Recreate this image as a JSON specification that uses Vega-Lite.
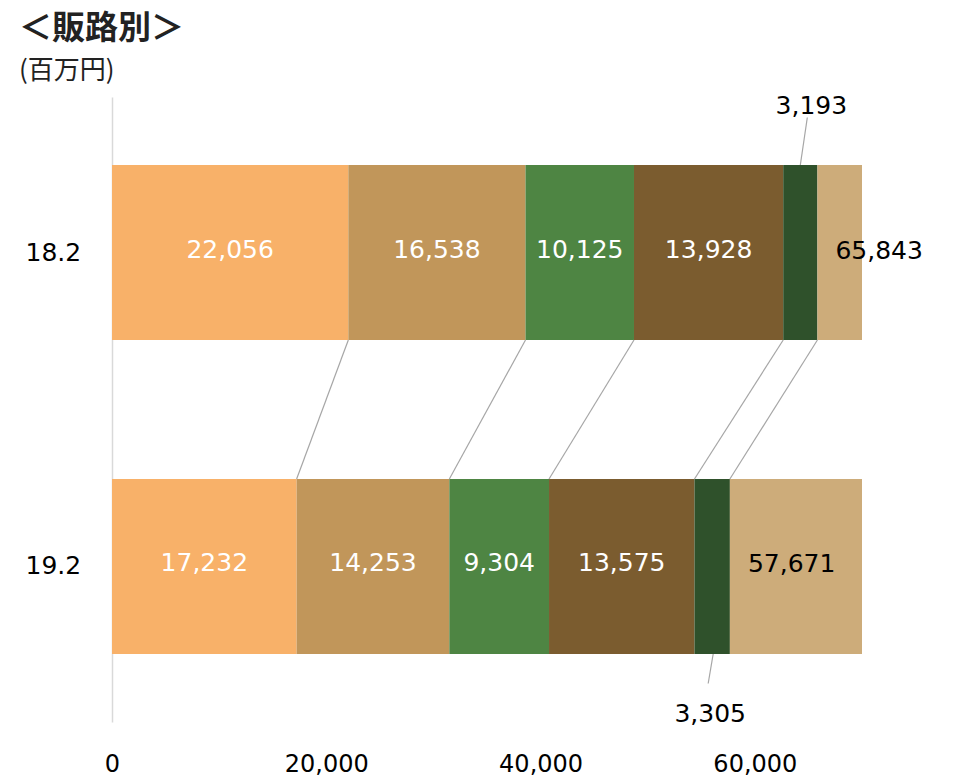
{
  "$schema": "https://vega.github.io/schema/vega-lite/v6.json",
  "width": 750,
  "height": 625,
  "autosize": {"type": "none"},
  "padding": {"left": 112, "top": 97, "right": 98, "bottom": 59},
  "background": "white",
  "title": {
    "text": "＜販路別＞",
    "subtitle": "(百万円)",
    "anchor": "start",
    "frame": "group",
    "dx": -93,
    "font": "Noto Sans CJK JP",
    "fontSize": 33,
    "fontWeight": "bold",
    "color": "#222222",
    "subtitleFont": "Noto Sans CJK JP",
    "subtitleFontSize": 26,
    "subtitleColor": "#222222",
    "subtitlePadding": 12,
    "offset": 10
  },
  "config": {"view": {"stroke": null}},
  "data": {
    "values": [
      {"period": "18.2", "channel": "販路A", "order": 1, "value": 22056},
      {"period": "18.2", "channel": "販路B", "order": 2, "value": 16538},
      {"period": "18.2", "channel": "販路C", "order": 3, "value": 10125},
      {"period": "18.2", "channel": "販路D", "order": 4, "value": 13928},
      {"period": "18.2", "channel": "販路E", "order": 5, "value": 3193},
      {"period": "18.2", "channel": "販路F", "order": 6, "value": 65843},
      {"period": "19.2", "channel": "販路A", "order": 1, "value": 17232},
      {"period": "19.2", "channel": "販路B", "order": 2, "value": 14253},
      {"period": "19.2", "channel": "販路C", "order": 3, "value": 9304},
      {"period": "19.2", "channel": "販路D", "order": 4, "value": 13575},
      {"period": "19.2", "channel": "販路E", "order": 5, "value": 3305},
      {"period": "19.2", "channel": "販路F", "order": 6, "value": 57671}
    ]
  },
  "transform": [
    {"stack": "value", "groupby": ["period"], "sort": [{"field": "order", "order": "ascending"}], "as": ["x0", "x1"]},
    {"calculate": "(datum.x0 + datum.x1) / 2", "as": "mid"}
  ],
  "encoding": {
    "y": {
      "field": "period",
      "type": "nominal",
      "sort": ["18.2", "19.2"],
      "scale": {"domain": ["18.2", "19.2"], "paddingInner": 0.4427, "paddingOuter": 0.2166},
      "axis": {
        "title": null,
        "domain": true,
        "domainColor": "#d9d9d9",
        "domainWidth": 1.5,
        "ticks": false,
        "labelAlign": "left",
        "labelPadding": 87,
        "labelFont": "DejaVu Sans",
        "labelFontSize": 25,
        "labelColor": "#000000"
      }
    }
  },
  "layer": [
    {
      "mark": {"type": "bar", "clip": true},
      "encoding": {
        "x": {
          "field": "x0",
          "type": "quantitative",
          "scale": {"domain": [0, 70000], "nice": false},
          "axis": {
            "title": null,
            "values": [0, 20000, 40000, 60000],
            "format": ",d",
            "domain": false,
            "ticks": false,
            "grid": false,
            "labelFlush": false,
            "labelPadding": 30,
            "labelFont": "DejaVu Sans",
            "labelFontSize": 24,
            "labelColor": "#000000"
          }
        },
        "x2": {"field": "x1"},
        "color": {
          "field": "channel",
          "type": "nominal",
          "scale": {
            "domain": ["販路A", "販路B", "販路C", "販路D", "販路E", "販路F"],
            "range": ["#F8B169", "#C1965A", "#4E8543", "#7B5C2F", "#2F512B", "#CDAC7A"]
          },
          "legend": null
        }
      }
    },
    {
      "transform": [
        {"filter": "datum.order <= 5"},
        {"pivot": "period", "value": "x1", "groupby": ["order"]}
      ],
      "mark": {"type": "rule", "color": "#a6a6a6", "strokeWidth": 1.2, "yOffset": 87.5, "y2Offset": -87.5},
      "encoding": {
        "x": {"field": "18\\.2", "type": "quantitative"},
        "x2": {"field": "19\\.2"},
        "y": {"datum": "18.2"},
        "y2": {"datum": "19.2"}
      }
    },
    {
      "transform": [{"filter": "datum.order == 5 && datum.period == '18.2'"}],
      "mark": {"type": "rule", "color": "#a6a6a6", "strokeWidth": 1.2, "yOffset": -87.5, "y2Offset": -135, "x2Offset": 7},
      "encoding": {
        "x": {"field": "mid", "type": "quantitative"},
        "x2": {"field": "mid"},
        "y2": {"field": "period"}
      }
    },
    {
      "transform": [{"filter": "datum.order == 5 && datum.period == '19.2'"}],
      "mark": {"type": "rule", "color": "#a6a6a6", "strokeWidth": 1.2, "yOffset": 87.5, "y2Offset": 117, "xOffset": 1, "x2Offset": -4},
      "encoding": {
        "x": {"field": "mid", "type": "quantitative"},
        "x2": {"field": "mid"},
        "y2": {"field": "period"}
      }
    },
    {
      "transform": [{"filter": "datum.order <= 4"}],
      "mark": {"type": "text", "color": "white", "font": "DejaVu Sans", "fontSize": 25, "baseline": "middle", "dy": -3},
      "encoding": {
        "x": {"field": "mid", "type": "quantitative"},
        "text": {"field": "value", "type": "quantitative", "format": ",d"}
      }
    },
    {
      "transform": [{"filter": "datum.order == 6"}],
      "mark": {"type": "text", "color": "black", "font": "DejaVu Sans", "fontSize": 25, "baseline": "middle", "align": "left", "dx": 18, "dy": -2},
      "encoding": {
        "x": {"field": "x0", "type": "quantitative"},
        "text": {"field": "value", "type": "quantitative", "format": ",d"}
      }
    },
    {
      "transform": [{"filter": "datum.order == 5 && datum.period == '18.2'"}],
      "mark": {"type": "text", "color": "black", "font": "DejaVu Sans", "fontSize": 25, "baseline": "middle", "dx": 11, "dy": -147},
      "encoding": {
        "x": {"field": "mid", "type": "quantitative"},
        "text": {"field": "value", "type": "quantitative", "format": ",d"}
      }
    },
    {
      "transform": [{"filter": "datum.order == 5 && datum.period == '19.2'"}],
      "mark": {"type": "text", "color": "black", "font": "DejaVu Sans", "fontSize": 25, "baseline": "middle", "dx": -2, "dy": 148},
      "encoding": {
        "x": {"field": "mid", "type": "quantitative"},
        "text": {"field": "value", "type": "quantitative", "format": ",d"}
      }
    }
  ]
}
